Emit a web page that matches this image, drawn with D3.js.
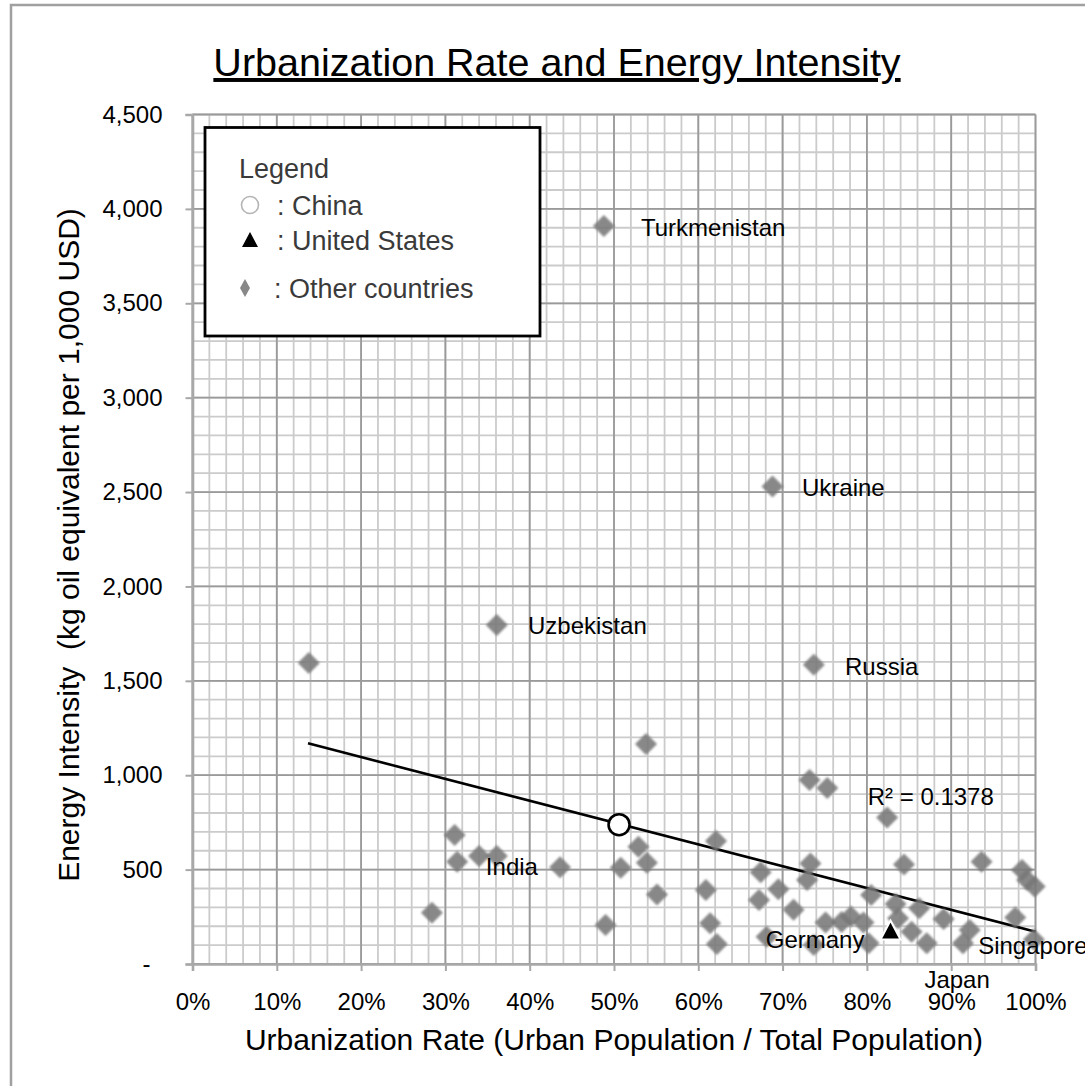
<!DOCTYPE html>
<html><head><meta charset="utf-8">
<script src="https://cdn.jsdelivr.net/npm/d3@7"></script>
<style>
html,body{margin:0;padding:0;background:#fff;}
text{font-family:"Liberation Sans",Arial,sans-serif;}
</style></head>
<body>
<svg id="chart" width="1085" height="1086"></svg>
<script>
// ---- data ----
const otherX = [13.8,36.1,48.8,68.8,73.7,53.8,31.1,31.4,34.0,36.1,43.6,28.4,49.0,50.8,52.9,53.9,55.1,62.1,60.9,61.4,62.2,67.4,67.2,69.5,71.3,73.3,72.9,73.2,75.3,68.1,73.7,75.1,77.0,82.4,84.4,93.6,98.4,99.0,99.9,80.5,83.4,86.2,89.1,97.6,78.1,79.6,83.7,85.3,87.1,92.2,91.4,80.2,99.8];
const otherY = [1594,1796,3910,2530,1585,1165,683,542,572,572,512,272,207,510,621,537,368,652,392,216,106,486,339,396,288,533,445,975,932,145,101,220,222,776,527,542,498,445,410,365,318,295,238,246,251,220,242,171,110,180,110,110,130];
const chinaX = [50.6], chinaY = [738];
const usX = [82.8], usY = [172];
const trendX = [13.7, 100], trendY = [1169, 171];
const labelNames = ["Turkmenistan","Ukraine","Uzbekistan","Russia","India","R² = 0.1378","Germany","Singapore"];
const labelX = [53.2,72.3,39.8,77.4,34.8,80.1,68.0,93.2];
const labelY = [3900,2523,1793,1575,519,886,132,101];
const japanLabel = {name:"Japan", x:90.7, y:-80};
const xTicks = [0,10,20,30,40,50,60,70,80,90,100];
const yTicks = [0,500,1000,1500,2000,2500,3000,3500,4000,4500];
const yTickLabels = ["-","500","1,000","1,500","2,000","2,500","3,000","3,500","4,000","4,500"];
const legendItems = ["Legend",": China",": United States",": Other countries"];

// ---- chart ----
const svg = d3.select("#chart");
const x = d3.scaleLinear().domain([0,100]).range([192.5,1035.5]);
const y = d3.scaleLinear().domain([0,4500]).range([964,114.5]);

// outer frame
svg.append("rect").attr("x",11).attr("y",5).attr("width",1200).attr("height",1200)
  .attr("fill","none").attr("stroke","#a0a0a0").attr("stroke-width",2.5);

const defs = svg.append("defs");
defs.append("filter").attr("id","soft").append("feGaussianBlur").attr("stdDeviation",0.9);

// title
svg.append("text").attr("x",557).attr("y",76).attr("text-anchor","middle")
  .attr("font-size",39.5).attr("text-decoration","underline").attr("fill","#000")
  .text("Urbanization Rate and Energy Intensity");

// grid
const g = svg.append("g");
g.selectAll(".vmin").data(d3.range(0,101,2)).join("line")
  .attr("x1",d=>x(d)).attr("x2",d=>x(d)).attr("y1",y(0)).attr("y2",y(4500))
  .attr("stroke","#cbcbcb").attr("stroke-width",1.8);
g.selectAll(".hmin").data(d3.range(0,4501,100)).join("line")
  .attr("y1",d=>y(d)).attr("y2",d=>y(d)).attr("x1",x(0)).attr("x2",x(100))
  .attr("stroke","#cbcbcb").attr("stroke-width",1.8);
g.selectAll(".vmaj").data(xTicks).join("line")
  .attr("x1",d=>x(d)).attr("x2",d=>x(d)).attr("y1",y(0)).attr("y2",y(4500))
  .attr("stroke","#9a9a9a").attr("stroke-width",1.8);
g.selectAll(".hmaj").data(yTicks).join("line")
  .attr("y1",d=>y(d)).attr("y2",d=>y(d)).attr("x1",x(0)).attr("x2",x(100))
  .attr("stroke","#9a9a9a").attr("stroke-width",1.8);

// axes
const yAxis = svg.append("g").attr("transform",`translate(${x(0)},0)`)
  .call(d3.axisLeft(y).tickValues(yTicks).tickSize(7).tickPadding(23).tickFormat((d,i)=>yTickLabels[i]));
const xAxis = svg.append("g").attr("transform",`translate(0,${y(0)})`)
  .call(d3.axisBottom(x).tickValues(xTicks).tickSize(7).tickPadding(22).tickFormat(d=>d+"%"));
[yAxis,xAxis].forEach(a=>{
  a.select(".domain").attr("stroke","#a8a8a8").attr("stroke-width",2.6);
  a.selectAll(".tick line").attr("stroke","#a8a8a8").attr("stroke-width",2);
  a.selectAll(".tick text").attr("font-size",24).attr("fill","#000")
   .attr("font-family","Liberation Sans, Arial, sans-serif");
});
yAxis.selectAll(".tick text").filter(d=>d===0).attr("dx",-12);

// axis titles
svg.append("text").attr("x",614).attr("y",1050).attr("text-anchor","middle")
  .attr("font-size",30).attr("fill","#000")
  .text("Urbanization Rate (Urban Population / Total Population)");
svg.append("text").attr("transform","translate(79,545) rotate(-90)").attr("text-anchor","middle")
  .attr("font-size",30).attr("fill","#000").attr("xml:space","preserve")
  .text("Energy Intensity  (kg oil equivalent per 1,000 USD)");

// trend line
svg.append("path").datum(trendX.map((d,i)=>[d,trendY[i]]))
  .attr("d",d3.line().x(d=>x(d[0])).y(d=>y(d[1])))
  .attr("stroke","#000").attr("stroke-width",2.6).attr("fill","none");

// other countries diamonds
const dm = 11;
svg.append("g").attr("filter","url(#soft)").selectAll("path").data(otherX.map((d,i)=>[d,otherY[i]])).join("path")
  .attr("d",d=>`M${x(d[0])},${y(d[1])-dm}L${x(d[0])+dm},${y(d[1])}L${x(d[0])},${y(d[1])+dm}L${x(d[0])-dm},${y(d[1])}Z`)
  .attr("fill","#777").attr("fill-opacity",0.88);

// China
svg.selectAll(".china").data(chinaX.map((d,i)=>[d,chinaY[i]])).join("circle")
  .attr("cx",d=>x(d[0])).attr("cy",d=>y(d[1])).attr("r",10.5)
  .attr("fill","#fff").attr("stroke","#000").attr("stroke-width",2.6);

// US
svg.selectAll(".us").data(usX.map((d,i)=>[d,usY[i]])).join("path")
  .attr("d",d=>`M${x(d[0])},${y(d[1])-11}L${x(d[0])+10},${y(d[1])+8}L${x(d[0])-10},${y(d[1])+8}Z`)
  .attr("fill","#000").attr("stroke","#fff").attr("stroke-width",2);

// labels
svg.append("g").selectAll("text").data(labelNames).join("text")
  .attr("x",(d,i)=>x(labelX[i])).attr("y",(d,i)=>y(labelY[i])).attr("dy","0.36em")
  .attr("font-size",24).attr("fill","#000").text(d=>d);
svg.append("text").attr("x",x(japanLabel.x)).attr("y",y(japanLabel.y)).attr("dy","0.36em")
  .attr("text-anchor","middle").attr("font-size",24).attr("fill","#000").text(japanLabel.name);

// legend
const lg = svg.append("g");
lg.append("rect").attr("x",205).attr("y",127.5).attr("width",335).attr("height",208.5)
  .attr("fill","#fff").attr("stroke","#000").attr("stroke-width",2.8);
const ly = [168,205,240,288];
lg.selectAll("text").data(legendItems).join("text")
  .attr("x",(d,i)=>i===0?239:(i===3?274:277)).attr("y",(d,i)=>ly[i]).attr("dy","0.36em")
  .attr("font-size",27).attr("fill","#3a3a3a").text(d=>d);
lg.append("circle").attr("cx",250).attr("cy",ly[1]).attr("r",8.5)
  .attr("fill","none").attr("stroke","#b5b5b5").attr("stroke-width",1.6);
lg.append("path").attr("d",`M250,${ly[2]-8}L258,${ly[2]+7}L242,${ly[2]+7}Z`).attr("fill","#000");
lg.append("path").attr("d",`M245,${ly[3]-9}L250,${ly[3]}L245,${ly[3]+9}L240,${ly[3]}Z`).attr("fill","#888");
</script>
</body></html>
